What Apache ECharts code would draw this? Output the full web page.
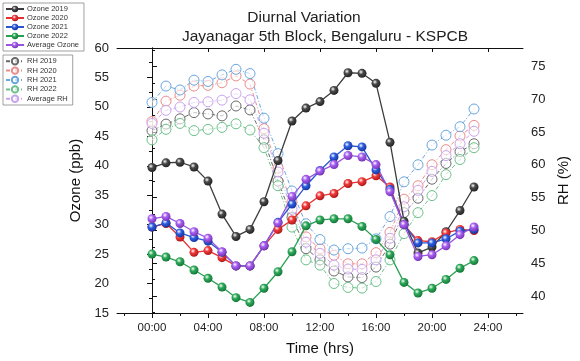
<!DOCTYPE html>
<html>
<head>
<meta charset="utf-8">
<script src="https://cdn.jsdelivr.net/npm/echarts@6/dist/echarts.min.js"></script>
<style>html,body{margin:0;padding:0;background:#fff}#c{width:580px;height:361px}</style>
</head>
<body>
<div id="c"></div>
<script>
// ---- data ----
const hours = [0,1,2,3,4,5,6,7,8,9,10,11,12,13,14,15,16,17,18,19,20,21,22,23];
const xTickLabels = [0,4,8,12,16,20,24];
const leftTicks = [15,20,25,30,35,40,45,50,55,60];
const rightTickLabels = [40,45,50,55,60,65,70,75];

const ozone2019 = [39.7,40.5,40.6,39.8,37.4,31.8,28.0,29.2,33.9,40.9,47.6,49.8,50.9,52.8,55.8,55.7,54.0,44.0,30.6,25.2,26.2,28.8,32.4,36.4];
const ozone2020 = [29.6,30.2,27.9,25.3,25.6,24.4,23.0,23.0,26.4,29.2,30.8,33.2,34.9,35.3,37.0,37.3,38.3,36.4,30.0,27.3,27.1,28.6,29.2,29.0];
const ozone2021 = [29.6,30.3,28.6,27.8,27.2,25.3,23.0,23.0,26.4,30.4,33.5,36.6,39.2,41.5,43.4,43.2,39.3,36.0,30.0,26.9,26.9,27.6,28.9,29.2];
const ozone2022 = [25.0,24.5,23.7,22.3,20.9,19.4,17.6,16.8,19.2,22.0,25.4,29.8,30.8,31.0,31.0,29.7,27.5,24.9,20.2,18.4,19.2,20.7,22.6,23.9];
const ozoneAvg  = [31.0,31.4,30.2,28.8,27.7,25.4,23.0,23.0,26.4,30.3,34.8,37.7,39.1,40.2,41.75,41.5,40.2,35.6,30.0,24.6,24.9,26.4,28.3,29.6];

const rh2019 = [65.2,66.2,67.0,67.95,67.75,67.45,68.96,68.36,63.8,57.5,52.0,47.2,45.5,43.8,42.9,42.8,44.4,47.9,52.7,54.9,57.8,60.2,62.0,63.2];
const rh2020 = [66.6,69.7,70.6,72.0,72.1,72.5,73.54,72.3,65.5,59.5,54.3,49.0,47.2,46.2,44.9,44.9,46.6,49.7,54.75,56.8,60.0,62.3,64.4,66.0];
const rh2021 = [69.5,72.0,71.4,72.9,72.7,73.7,74.55,73.9,67.1,61.7,56.0,51.0,48.6,47.0,47.2,47.3,48.7,52.1,57.4,60.0,63.0,64.5,65.8,68.5];
const rh2022 = [63.8,65.4,66.3,65.2,65.4,65.7,66.24,65.3,62.6,56.8,50.5,45.5,44.7,41.9,41.3,41.2,42.2,45.5,49.5,52.7,55.3,58.5,60.8,62.6];
const rhAvg  = [66.3,68.3,68.8,69.5,69.6,69.85,70.85,69.9,64.8,58.9,53.2,48.2,46.5,44.7,44.1,44.05,45.5,48.8,53.6,56.1,59.0,61.4,63.2,65.1];

const ozoneNames = ['Ozone 2019','Ozone 2020','Ozone 2021','Ozone 2022','Average Ozone'];
const rhNames = ['RH 2019','RH 2020','RH 2021','RH 2022','Average RH'];

// ---- styling ----
const FONT = 'Liberation Sans, Arial, sans-serif';
const ozoneColors = [
  {base:'#4a4a4a', dark:'#1a1a1a', line:'#3c3c3c'},
  {base:'#f03a3a', dark:'#a01010', line:'#e83030'},
  {base:'#2f5fe0', dark:'#102a90', line:'#2a55d0'},
  {base:'#2eaa5a', dark:'#0f6a30', line:'#28a050'},
  {base:'#a860f0', dark:'#6a2aa8', line:'#9a55e0'}
];
const rhColors = ['#6a6a6a','#ec8c8c','#6aa6e0','#6cc08a','#c9a3ef'];

function zip(vals){ return hours.map((h,i)=>[h, vals[i]]); }
function sphere(c){
  return {type:'radial', x:0.38, y:0.35, r:0.75,
    colorStops:[{offset:0,color:'#ffffff'},{offset:0.35,color:c.base},{offset:1,color:c.dark}]};
}

const ozoneData = [ozone2019, ozone2020, ozone2021, ozone2022, ozoneAvg];
const rhData = [rh2019, rh2020, rh2021, rh2022, rhAvg];

const series = [];
rhData.forEach((d,i)=>{
  series.push({
    name: rhNames[i], type:'line', yAxisIndex:1, xAxisIndex:0,
    data: zip(d), symbol:'circle', symbolSize:10, z:2,
    lineStyle:{color:rhColors[i], width:1, type:[4,2,1,2]},
    itemStyle:{color:'rgba(255,255,255,0.6)', borderColor:rhColors[i], borderWidth:1},
    emphasis:{disabled:true}, animation:false
  });
});
ozoneData.forEach((d,i)=>{
  series.push({
    name: ozoneNames[i], type:'line', yAxisIndex:0, xAxisIndex:0,
    data: zip(d), symbol:'circle', symbolSize:9, z:5,
    lineStyle:{color:ozoneColors[i].line, width:1.3},
    itemStyle:{color:sphere(ozoneColors[i])},
    emphasis:{disabled:true}, animation:false
  });
});

const xMajor = xTickLabels;
const xMinor = [-2,2,6,10,14,18,22,26];
const rMinor = [37.5,42.5,47.5,52.5,57.5,62.5,67.5,72.5,77.5];

const axisLineBlack = {show:true, lineStyle:{color:'#111', width:1}};

const option = {
  animation:false,
  backgroundColor:'#fff',
  textStyle:{fontFamily:FONT},
  grid:{left:117, right:57, top:48, bottom:45, containLabel:false},
  graphic:[
    {type:'text', x:304, y:18, style:{text:'Diurnal Variation', font:'15.5px Liberation Sans', fill:'#222', textAlign:'center', textVerticalAlign:'middle'}},
    {type:'text', x:325, y:37, style:{text:'Jayanagar 5th Block, Bengaluru - KSPCB', font:'15.5px Liberation Sans', fill:'#222', textAlign:'center', textVerticalAlign:'middle'}}
  ],
  legend:[
    {data:ozoneNames, orient:'vertical', left:3, top:3, itemWidth:18, itemHeight:8, itemGap:1,
     textStyle:{fontSize:7.5, color:'#333', fontFamily:FONT, padding:[0,0,0,-2]}, padding:[2,5,2,2],
     borderColor:'#888', borderWidth:0.8, selectedMode:false},
    {data:rhNames, orient:'vertical', left:3, top:55, itemWidth:18, itemHeight:8, itemGap:1,
     textStyle:{fontSize:7.5, color:'#333', fontFamily:FONT, padding:[0,0,0,-2]}, padding:[2,5,2,2],
     borderColor:'#888', borderWidth:0.8, selectedMode:false}
  ],
  xAxis:[
    {type:'value', min:-2.5, max:26.5, position:'bottom',
     axisLine:axisLineBlack,
     axisTick:{show:true, customValues:xMajor, length:5, lineStyle:{color:'#111'}},
     axisLabel:{customValues:xMajor, fontSize:11.5, color:'#222', margin:9,
       formatter:(v)=> String(v).padStart(2,'0')+':00'},
     splitLine:{show:false},
     name:'Time (hrs)', nameLocation:'middle', nameGap:28,
     nameTextStyle:{fontSize:15, color:'#111', fontFamily:FONT}},
    {type:'value', min:-2.5, max:26.5, position:'bottom',
     axisLine:{show:false},
     axisTick:{show:true, customValues:xMinor, length:3, lineStyle:{color:'#111'}},
     axisLabel:{show:false}, splitLine:{show:false}},
    {type:'value', min:-2.5, max:26.5, position:'top',
     axisLine:axisLineBlack,
     axisTick:{show:true, inside:true, customValues:xMajor, length:4, lineStyle:{color:'#111'}},
     axisLabel:{show:false}, splitLine:{show:false}}
  ],
  yAxis:[
    {type:'value', min:15, max:60, interval:5, position:'left',
     axisLine:axisLineBlack,
     axisTick:{show:true, length:5, lineStyle:{color:'#111'}},
     minorTick:{show:true, splitNumber:2, length:3, lineStyle:{color:'#111'}},
     axisLabel:{fontSize:13, color:'#222', margin:8},
     splitLine:{show:false},
     name:'Ozone (ppb)', nameLocation:'middle', nameGap:21, nameRotate:90,
     nameTextStyle:{fontSize:15, color:'#111', fontFamily:FONT}},
    {type:'value', min:37.4, max:77.8, position:'right',
     axisLine:axisLineBlack,
     axisTick:{show:true, customValues:rightTickLabels, length:5, lineStyle:{color:'#111'}},
     axisLabel:{customValues:rightTickLabels, fontSize:13, color:'#222', margin:8},
     splitLine:{show:false},
     name:'RH (%)', nameLocation:'middle', nameGap:25, nameRotate:90,
     nameTextStyle:{fontSize:15, color:'#111', fontFamily:FONT}},
    {type:'value', min:37.4, max:77.8, position:'right',
     axisLine:{show:false},
     axisTick:{show:true, customValues:rMinor, length:3, lineStyle:{color:'#111'}},
     axisLabel:{show:false}, splitLine:{show:false}}
  ],
  series:series
};
const chart = echarts.init(document.getElementById('c'), null, {renderer:'canvas'});
chart.setOption(option);
</script>
</body>
</html>
